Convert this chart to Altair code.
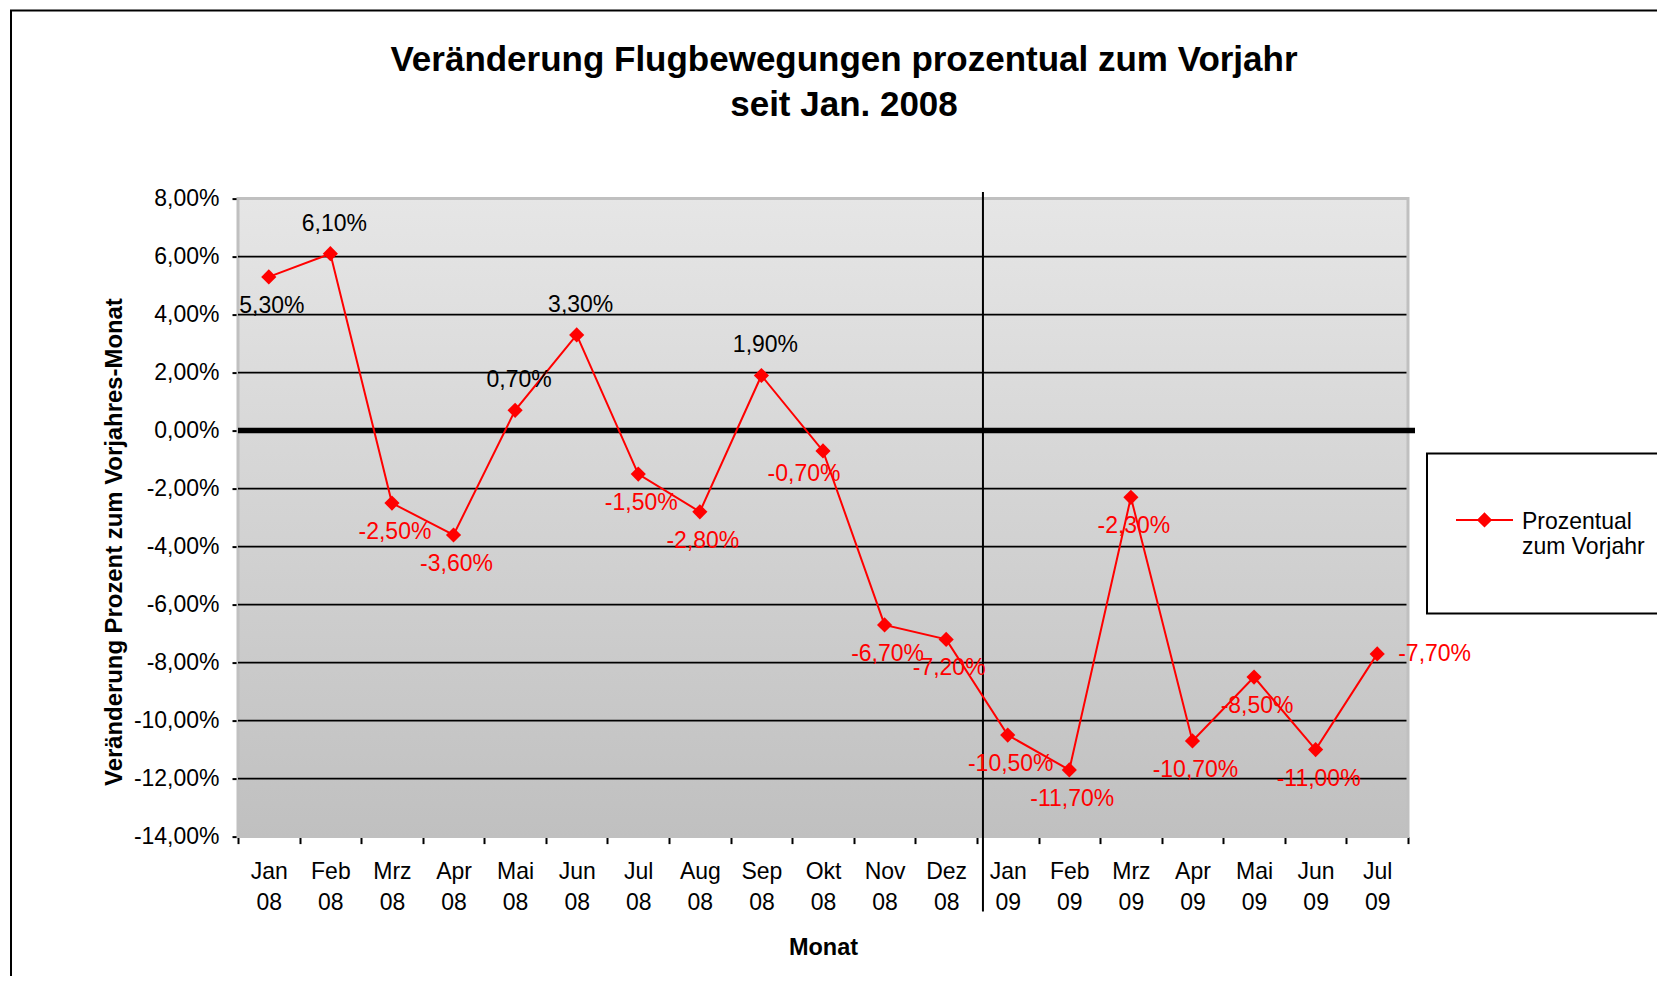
import altair as alt
import pandas as pd

# ---- data ----
months = ["Jan 08", "Feb 08", "Mrz 08", "Apr 08", "Mai 08", "Jun 08", "Jul 08",
          "Aug 08", "Sep 08", "Okt 08", "Nov 08", "Dez 08", "Jan 09", "Feb 09",
          "Mrz 09", "Apr 09", "Mai 09", "Jun 09", "Jul 09"]
values = [5.3, 6.1, -2.5, -3.6, 0.7, 3.3, -1.5, -2.8, 1.9, -0.7, -6.7, -7.2,
          -10.5, -11.7, -2.3, -10.7, -8.5, -11.0, -7.7]
series_name = "Prozentual\nzum Vorjahr"
y_ticks = [8, 6, 4, 2, 0, -2, -4, -6, -8, -10, -12, -14]
grid_values = [6, 4, 2, -2, -4, -6, -8, -10, -12]
zero_line = [0]
last_month_2008 = ["Dez 08"]

# label placement groups
labels_above = ["Feb 08", "Mai 08", "Jun 08", "Sep 08"]
labels_left = ["Okt 08"]
labels_right = ["Jul 09"]

FONT = "Liberation Sans"
RED = "#ff0000"
W, H = 1170, 638
BAND = W / len(months)

df = pd.DataFrame({"Monat": months, "Wert": values, "Serie": series_name})

pct_expr = "(datum.Wert < 0 ? '-' : '') + replace(format(abs(datum.Wert), '.2f'), '.', ',') + '%'"

x_enc = alt.X(
    "Monat:N", sort=months,
    scale=alt.Scale(type="band", paddingInner=0, paddingOuter=0),
    axis=alt.Axis(
        title="Monat", labelExpr="split(datum.label, ' ')", labelAngle=0,
        labelFont=FONT, labelFontSize=23, labelColor="black", labelLineHeight=31,
        labelPadding=17, labelBaseline="top", labelAlign="center",
        tickBand="extent", tickSize=7, tickColor="black", tickWidth=2,
        domainColor="black", domainWidth=2, grid=False,
        titleFont=FONT, titleFontSize=23.5, titleFontWeight="bold", titleColor="black",
        titleX=W / 2, titleY=111, titleBaseline="middle", titleAlign="center",
    ),
)
y_scale = alt.Scale(domain=[-14, 8], nice=False, zero=False)
y_enc = alt.Y(
    "Wert:Q", scale=y_scale,
    axis=alt.Axis(
        values=y_ticks,
        labelExpr="(datum.value < 0 ? '-' : '') + replace(format(abs(datum.value), '.2f'), '.', ',') + '%'",
        labelFont=FONT, labelFontSize=23, labelColor="black", labelPadding=13,
        tickSize=6, tickColor="black", tickWidth=2,
        domainColor="black", domainWidth=2, grid=False,
        title="Veränderung Prozent zum Vorjahres-Monat",
        titleFont=FONT, titleFontSize=23.9, titleFontWeight="bold", titleColor="black",
        titleX=-124, titleY=343, titleBaseline="middle", titleAlign="center", titleAngle=-90,
    ),
)

base = alt.Chart(df)

frame = alt.Chart(pd.DataFrame({"f": [0]})).mark_rect(
    filled=False, stroke="black", strokeWidth=2
).encode(x=alt.value(-227), x2=alt.value(1500), y=alt.value(-188), y2=alt.value(900))

bg = alt.Chart(pd.DataFrame({"f": [0]})).mark_rect(
    color=alt.LinearGradient(
        gradient="linear", x1=0, y1=0, x2=0, y2=1,
        stops=[alt.GradientStop(color="#e6e6e6", offset=0),
               alt.GradientStop(color="#c0c0c0", offset=1)],
    ),
    stroke="#c0c0c0", strokeWidth=3,
).encode(x=alt.value(0), x2=alt.value(W), y=alt.value(0), y2=alt.value(H))

grid = alt.Chart(pd.DataFrame({"Wert": grid_values})).mark_rule(
    color="black", strokeWidth=1.6
).encode(y=y_enc, x=alt.value(0), x2=alt.value(W - 1.5))

zero = alt.Chart(pd.DataFrame({"Wert": zero_line})).mark_rule(
    color="black", strokeWidth=5.5
).encode(y=y_enc, x=alt.value(0), x2=alt.value(W + 7))

sep = base.transform_filter(
    alt.FieldOneOfPredicate(field="Monat", oneOf=last_month_2008)
).mark_rule(color="black", strokeWidth=2, xOffset=BAND / 2 + 6).encode(
    x=x_enc, y=alt.value(-6.5), y2=alt.value(713)
)

line = base.mark_line(
    strokeWidth=2,
    point=alt.OverlayMarkDef(shape="diamond", filled=True, size=230, color=RED),
).encode(
    x=x_enc, y=y_enc,
    color=alt.Color(
        "Serie:N", scale=alt.Scale(range=[RED]),
        legend=alt.Legend(
            title=None, orient="none", legendX=1189, legendY=255,
            padding=28, strokeColor="black", fillColor="white", clipHeight=104,
            symbolType="M-1,-0.48L1,-0.48M0,-0.7L0.22,-0.48L0,-0.26L-0.22,-0.48Z",
            symbolSize=3249, symbolStrokeWidth=2,
            symbolFillColor=RED, symbolStrokeColor=RED,
            labelFont=FONT, labelFontSize=23, labelColor="black", labelBaseline="bottom",
            labelExpr="split(datum.label, '\\n')", labelOffset=8, labelLimit=400,
        ),
    ),
)

txt_base = base.transform_calculate(
    txt=pct_expr, col="datum.Wert < 0 ? '#ff0000' : '#000000'"
)
enc = dict(x=x_enc, y=y_enc, text="txt:N", color=alt.Color("col:N", scale=None))
others = labels_above + labels_left + labels_right
t_above = txt_base.transform_filter(
    alt.FieldOneOfPredicate(field="Monat", oneOf=labels_above)
).mark_text(font=FONT, fontSize=23, dy=-30, dx=4).encode(**enc)
t_below = txt_base.transform_filter(
    {"not": alt.FieldOneOfPredicate(field="Monat", oneOf=others)}
).mark_text(font=FONT, fontSize=23, dy=29, dx=3).encode(**enc)
t_left = txt_base.transform_filter(
    alt.FieldOneOfPredicate(field="Monat", oneOf=labels_left)
).mark_text(font=FONT, fontSize=23, dy=23, dx=-19).encode(**enc)
t_right = txt_base.transform_filter(
    alt.FieldOneOfPredicate(field="Monat", oneOf=labels_right)
).mark_text(font=FONT, fontSize=23, align="left", dx=21).encode(**enc)

chart = alt.layer(frame, bg, grid, zero, sep, line, t_above, t_below, t_left, t_right).properties(
    width=W, height=H,
    title=alt.TitleParams(
        text=["Veränderung Flugbewegungen prozentual zum Vorjahr", "seit Jan. 2008"],
        font=FONT, fontSize=35, fontWeight="bold", color="black", lineHeight=44.5,
        anchor="middle", frame="group", dx=21, offset=-148, baseline="bottom",
    ),
    autosize=alt.AutoSizeParams(type="none"),
    padding={"left": 230, "top": 190.6, "right": 249, "bottom": 139},
).configure_view(stroke=None).configure_legend(strokeWidth=2)

chart.save("out.html", embed_options={"renderer": "svg", "actions": False})
